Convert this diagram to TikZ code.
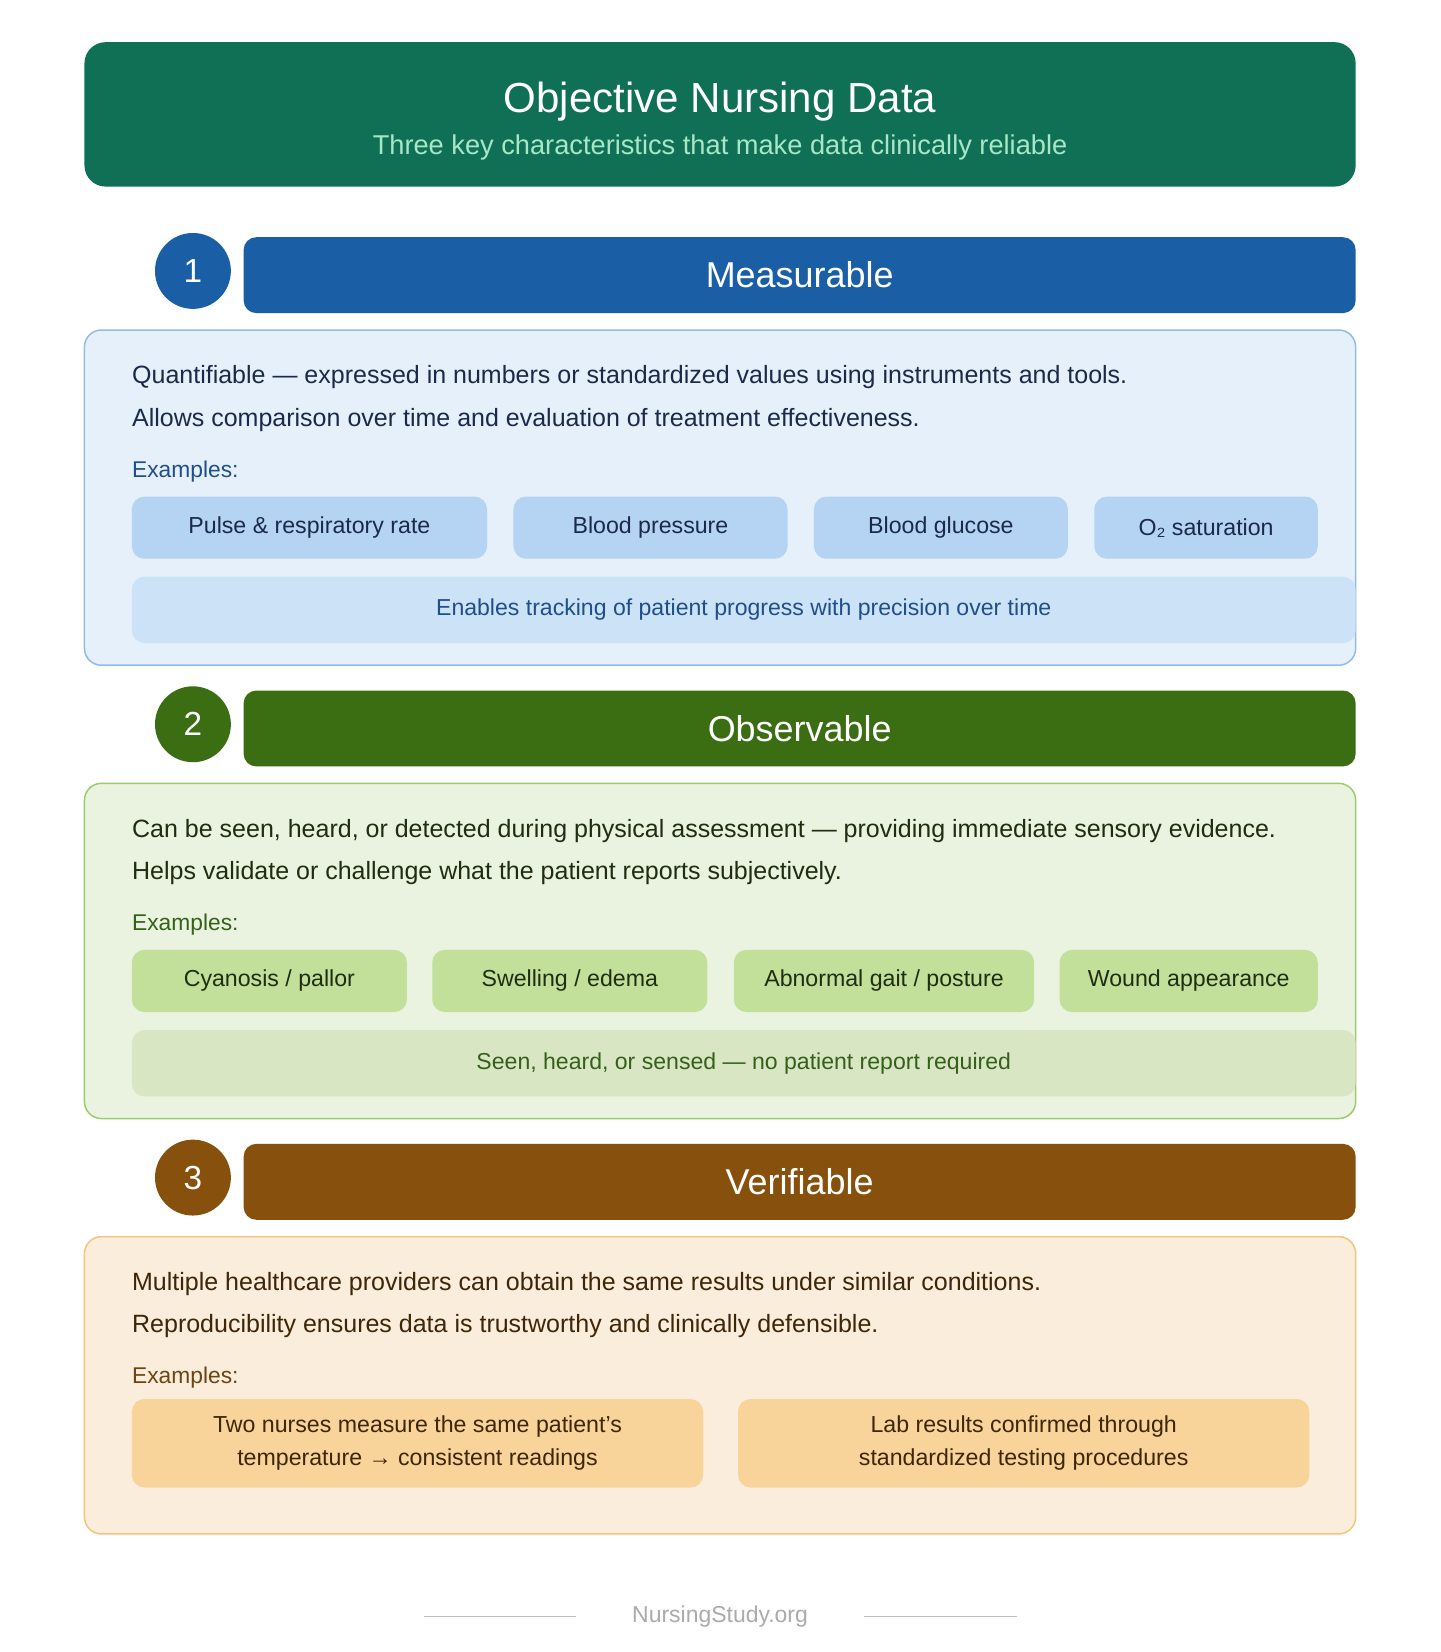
\documentclass[tikz,border=0pt]{standalone}
\usepackage{fontspec}
\setmainfont{Liberation Sans}
\definecolor{hdr}{HTML}{0F7055}
\definecolor{hdrsub}{HTML}{A8E6C8}
\definecolor{mblue}{HTML}{1A5EA6}
\definecolor{mfill}{HTML}{E6F0FA}
\definecolor{mline}{HTML}{90BCEA}
\definecolor{mpill}{HTML}{B5D3F2}
\definecolor{mband}{HTML}{CCE2F7}
\definecolor{mtext}{HTML}{1B2A4A}
\definecolor{mex}{HTML}{1F4F8A}
\definecolor{ogreen}{HTML}{3B6E12}
\definecolor{ofill}{HTML}{EAF3E0}
\definecolor{oline}{HTML}{9CCB6E}
\definecolor{opill}{HTML}{C2E09A}
\definecolor{oband}{HTML}{D8E6C4}
\definecolor{otext}{HTML}{1E2E10}
\definecolor{oex}{HTML}{35601A}
\definecolor{vbrown}{HTML}{87500C}
\definecolor{vfill}{HTML}{FAEDDC}
\definecolor{vline}{HTML}{F3C57A}
\definecolor{vpill}{HTML}{F8D49A}
\definecolor{vtext}{HTML}{3E2608}
\definecolor{vex}{HTML}{6E4510}
\begin{document}
\begin{tikzpicture}[x=0.02cm, y=-0.02cm,
    box/.style={draw, line width=0.8pt, rounded corners=0.32cm, minimum width=24.12cm},
    bar/.style={rounded corners=0.24cm, minimum width=21.1cm, minimum height=1.44cm, text=white, font=\fontsize{19.4}{23}\selectfont},
    num/.style={circle, minimum size=1.44cm, text=white, font=\fontsize{18}{22}\selectfont},
    pill/.style={rounded corners=0.24cm, minimum height=1.18cm, font=\fontsize{12.5}{15}\selectfont},
    band/.style={rounded corners=0.24cm, minimum width=23.22cm, minimum height=1.26cm, font=\fontsize{12.45}{15}\selectfont},
    body/.style={anchor=west, font=\fontsize{13.5}{16}\selectfont, inner sep=0pt},
    exlabel/.style={anchor=west, font=\fontsize{12.3}{15}\selectfont, inner sep=0pt}]
    \useasboundingbox[fill=white] (0,0) rectangle (1366,1567);

    % Header
    \node[fill=hdr, rounded corners=0.4cm, minimum width=24.12cm, minimum height=2.74cm] (header) at (683,108.5) {};
    \node[text=white, font=\fontsize{22.7}{27}\selectfont] (title) at (683,96) {Objective Nursing Data};
    \node[text=hdrsub, font=\fontsize{14.7}{17}\selectfont] (subtitle) at (683,140) {Three key characteristics that make data clinically reliable};

    % Measurable
    \node[num, fill=mblue] (n1) at (183,257) {1};
    \node[bar, fill=mblue] (bar1) at (758.5,261) {Measurable};
    \node[box, draw=mline, fill=mfill, minimum height=6.36cm] (box1) at (683,472) {};
    \node[body, text=mtext] (t1a) at (125,358) {Quantifiable — expressed in numbers or standardized values using instruments and tools.};
    \node[body, text=mtext] (t1b) at (125,398) {Allows comparison over time and evaluation of treatment effectiveness.};
    \node[exlabel, text=mex] (ex1) at (125,447) {Examples:};
    \node[pill, fill=mpill, text=mtext, minimum width=6.74cm] (p1a) at (293.5,500.5) {Pulse \& respiratory rate};
    \node[pill, fill=mpill, text=mtext, minimum width=5.2cm] (p1b) at (617,500.5) {Blood pressure};
    \node[pill, fill=mpill, text=mtext, minimum width=4.82cm] (p1c) at (892.5,500.5) {Blood glucose};
    \node[pill, fill=mpill, text=mtext, minimum width=4.24cm] (p1d) at (1144,500.5) {O₂ saturation};
    \node[band, fill=mband, text=mex] (band1) at (705.5,578.5) {Enables tracking of patient progress with precision over time};

    % Observable
    \node[num, fill=ogreen] (n2) at (183,687) {2};
    \node[bar, fill=ogreen] (bar2) at (758.5,691) {Observable};
    \node[box, draw=oline, fill=ofill, minimum height=6.36cm] (box2) at (683,902) {};
    \node[body, text=otext] (t2a) at (125,788) {Can be seen, heard, or detected during physical assessment — providing immediate sensory evidence.};
    \node[body, text=otext] (t2b) at (125,828) {Helps validate or challenge what the patient reports subjectively.};
    \node[exlabel, text=oex] (ex2) at (125,877) {Examples:};
    \node[pill, fill=opill, text=otext, minimum width=5.22cm] (p2a) at (255.5,930.5) {Cyanosis / pallor};
    \node[pill, fill=opill, text=otext, minimum width=5.22cm] (p2b) at (540.5,930.5) {Swelling / edema};
    \node[pill, fill=opill, text=otext, minimum width=5.7cm] (p2c) at (838.5,930.5) {Abnormal gait / posture};
    \node[pill, fill=opill, text=otext, minimum width=4.9cm] (p2d) at (1127.5,930.5) {Wound appearance};
    \node[band, fill=oband, text=oex] (band2) at (705.5,1008.5) {Seen, heard, or sensed — no patient report required};

    % Verifiable
    \node[num, fill=vbrown] (n3) at (183,1117) {3};
    \node[bar, fill=vbrown] (bar3) at (758.5,1121) {Verifiable};
    \node[box, draw=vline, fill=vfill, minimum height=5.64cm] (box3) at (683,1314) {};
    \node[body, text=vtext] (t3a) at (125,1218) {Multiple healthcare providers can obtain the same results under similar conditions.};
    \node[body, text=vtext] (t3b) at (125,1258) {Reproducibility ensures data is trustworthy and clinically defensible.};
    \node[exlabel, text=vex] (ex3) at (125,1307) {Examples:};
    \node[pill, fill=vpill, text=vtext, minimum width=10.84cm, minimum height=1.68cm, align=center, font=\fontsize{12.5}{18}\selectfont] (p3a) at (396,1369) {Two nurses measure the same patient's\\temperature → consistent readings};
    \node[pill, fill=vpill, text=vtext, minimum width=10.84cm, minimum height=1.68cm, align=center, font=\fontsize{12.5}{18}\selectfont] (p3b) at (971,1369) {Lab results confirmed through\\standardized testing procedures};

    % Footer
    \node[text=black!33, font=\fontsize{12.4}{15}\selectfont] (footer) at (683,1533) {NursingStudy.org};
    \coordinate (fl1) at (402,1533);
    \coordinate (fl2) at (546,1533);
    \coordinate (fr1) at (820,1533);
    \coordinate (fr2) at (965,1533);
    \draw[black!25, line width=0.6pt] (fl1) -- (fl2);
    \draw[black!25, line width=0.6pt] (fr1) -- (fr2);
\end{tikzpicture}
\end{document}
